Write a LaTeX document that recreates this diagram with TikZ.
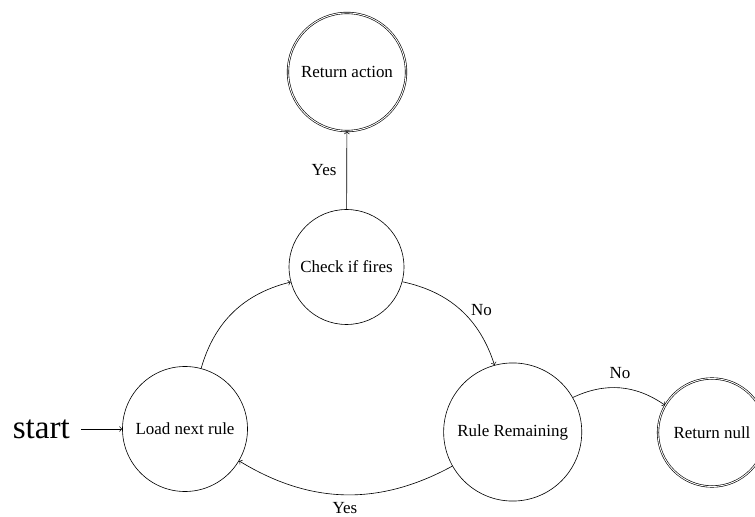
\documentclass[tikz,border=0pt]{standalone}
\usepackage{fontspec}
\setmainfont{Liberation Serif}
\begin{document}
\begin{tikzpicture}[x=0.648pt,y=-0.648pt,
  txt/.style={font=\fontsize{11}{13}\selectfont},
  state/.style={circle,draw,inner sep=0pt,txt},
  accept/.style={state,double,double distance=0.6pt},
  edge/.style={->},
  lbl/.style={inner sep=0pt,txt}]
\useasboundingbox (0,0) rectangle (755,517);
\node[state,minimum size=81pt] (load) at (185,429) {Load next rule};
\node[state,minimum size=74.5pt] (check) at (346.5,267) {Check if fires};
\node[state,minimum size=89.5pt] (rule) at (512.7,432) {Rule Remaining};
\node[accept,minimum size=76.5pt] (ract) at (347,72) {Return action};
\node[accept,minimum size=70pt] (rnull) at (712,432.5) {Return null};
\node[anchor=east,inner sep=7pt,font=\fontsize{21.5}{25}\selectfont] (start) at (81,429) {start};
\draw[edge] (start) -- (load);
\draw[edge] (load) to[bend left=30] (check);
\draw[edge] (check) to[bend left=30] node[lbl,midway,right=6.5pt] (l1) {No} (rule);
\draw[edge] (check) -- node[lbl,midway,left=6.5pt] (l2) {Yes} (ract);
\draw[edge] (rule) to[bend left=30] node[lbl,midway,above=6pt] (l3) {No} (rnull);
\draw[edge] (rule) to[bend left=30] node[lbl,midway,below=5pt] (l4) {Yes} (load);
\end{tikzpicture}
\end{document}
